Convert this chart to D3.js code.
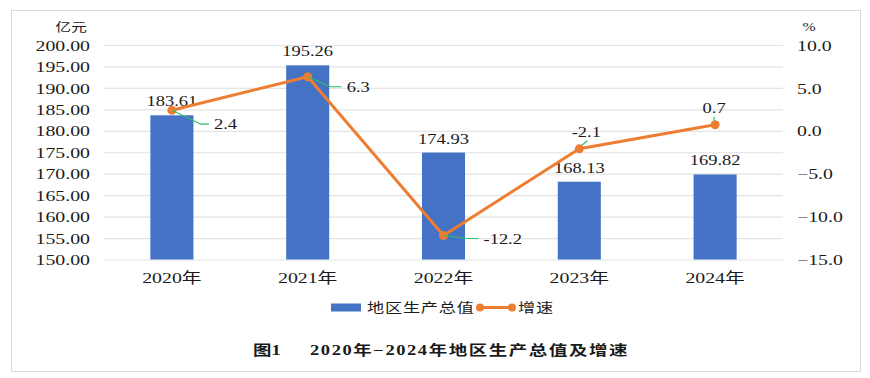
<!DOCTYPE html>
<html>
<head>
<meta charset="utf-8">
<script src="https://cdn.jsdelivr.net/npm/d3@7"></script>
<style>
  html, body { margin: 0; padding: 0; background: #fff; }
  svg text { font-family: "Liberation Serif", "Noto Sans CJK SC", serif; fill: #1a1a1a; }
</style>
</head>
<body>
<div id="chart"></div>
<script>
// ── Data ──────────────────────────────────────────────────────────────────────
const years  = ['2020年', '2021年', '2022年', '2023年', '2024年'];
const gdp    = [183.61, 195.26, 174.93, 168.13, 169.82];   // 亿元
const growth = [2.4, 6.3, -12.2, -2.1, 0.7];                // %
const leftTicks  = [150, 155, 160, 165, 170, 175, 180, 185, 190, 195, 200];
const rightTicks = [-15, -10, -5, 0, 5, 10];

// label placement for the growth values (leader line + text), relative to point
const growthLabelPos = [
  { path: [[0, 0], [29, 14], [37, 14]], tx: 42, ty: 19, anchor: 'start' },
  { path: [[0, 0], [23, 10], [34, 10]], tx: 39, ty: 15, anchor: 'start' },
  { path: [[0, 0], [23, 3], [35, 3]],   tx: 40, ty: 9,  anchor: 'start' },
  { path: [[2, -3], [8, -8]],           tx: 7,  ty: -12, anchor: 'middle' },
  { path: [[-1, -4], [-1, -8]],         tx: -1, ty: -12, anchor: 'middle' }
];

const W = 870, H = 378;
const M = { top: 45, right: 87, bottom: 118.5, left: 104 };
const SX = 1.32;   // source picture is stretched horizontally

const svg = d3.select('#chart').append('svg').attr('width', W).attr('height', H);

// stretch a text element horizontally around its anchor point
function stretch(sel, sx = SX) {
  sel.each(function () {
    const t = d3.select(this);
    const x = +t.attr('x') || 0, y = +t.attr('y') || 0;
    t.attr('x', 0).attr('y', 0)
     .attr('transform', `translate(${x},${y}) scale(${sx},1)`);
  });
}

// ── Frame ─────────────────────────────────────────────────────────────────────
svg.append('rect')
  .attr('x', 11.5).attr('y', 10.5).attr('width', 849).attr('height', 361)
  .attr('fill', 'none').attr('stroke', '#d9d9d9').attr('stroke-width', 1);

const iw = W - M.left - M.right;
const ih = H - M.top - M.bottom;
const g = svg.append('g').attr('transform', `translate(${M.left},${M.top})`);

// ── Scales ────────────────────────────────────────────────────────────────────
const x  = d3.scaleBand().domain(years).range([0, iw]).paddingInner(0.683).paddingOuter(0.3415);
const yL = d3.scaleLinear().domain([150, 200]).range([ih, 0]);
const yR = d3.scaleLinear().domain([-15, 10]).range([ih, 0]);
const cx = d => x(d) + x.bandwidth() / 2;

// ── Gridlines ─────────────────────────────────────────────────────────────────
g.append('g')
  .call(d3.axisLeft(yL).tickValues(leftTicks).tickSize(-iw).tickFormat(''))
  .call(a => a.select('.domain').remove())
  .call(a => a.selectAll('line').attr('stroke', '#e3e3e3').attr('stroke-width', 1.2));

// ── Bars ──────────────────────────────────────────────────────────────────────
g.selectAll('.bar').data(gdp).join('rect')
  .attr('x', (d, i) => x(years[i]))
  .attr('y', d => yL(d))
  .attr('width', x.bandwidth())
  .attr('height', d => ih - yL(d))
  .attr('fill', '#4472C4');

g.selectAll('.bar-label').data(gdp).join('text')
  .attr('x', (d, i) => cx(years[i]))
  .attr('y', d => yL(d) - 9)
  .attr('text-anchor', 'middle').attr('font-size', 14)
  .text(d => d.toFixed(2))
  .call(stretch);

// ── Axes ──────────────────────────────────────────────────────────────────────
g.append('g')
  .call(d3.axisLeft(yL).tickValues(leftTicks).tickSize(0).tickPadding(14).tickFormat(d3.format('.2f')))
  .call(a => a.select('.domain').remove())
  .call(a => a.selectAll('text').attr('font-size', 15).attr('fill', '#1a1a1a')
    .attr('font-family', '"Liberation Serif", serif').attr('dy', '0.34em').call(stretch));

g.append('g').attr('transform', `translate(${iw},0)`)
  .call(d3.axisRight(yR).tickValues(rightTicks).tickSize(0).tickPadding(14).tickFormat(d3.format('.1f')))
  .call(a => a.select('.domain').remove())
  .call(a => a.selectAll('text').attr('font-size', 15).attr('fill', '#1a1a1a')
    .attr('font-family', '"Liberation Serif", serif').attr('dy', '0.34em').call(stretch));

g.append('g').attr('transform', `translate(0,${ih})`)
  .call(d3.axisBottom(x).tickSize(0).tickPadding(13))
  .call(a => a.select('.domain').remove())
  .call(a => a.selectAll('text').attr('font-size', 15).attr('fill', '#1a1a1a')
    .attr('font-family', '"Liberation Serif", "Noto Sans CJK SC", serif').attr('dy', '0.71em').call(stretch));

// unit labels
svg.append('text').attr('x', 71).attr('y', 32).attr('text-anchor', 'middle')
  .attr('font-size', 12).attr('fill', '#595959')
  .attr('font-family', '"Noto Sans CJK SC", sans-serif').text('亿元').call(stretch);
svg.append('text').attr('x', 809).attr('y', 31).attr('text-anchor', 'middle')
  .attr('font-size', 12).attr('fill', '#595959').text('%').call(stretch);

// ── Growth line ───────────────────────────────────────────────────────────────
const pts = growth.map((d, i) => [cx(years[i]), yR(d)]);

g.append('path').datum(pts)
  .attr('d', d3.line())
  .attr('fill', 'none').attr('stroke', '#ED7D31').attr('stroke-width', 3)
  .attr('stroke-linejoin', 'round');

g.selectAll('.pt').data(pts).join('circle')
  .attr('cx', d => d[0]).attr('cy', d => d[1]).attr('r', 4.5)
  .attr('fill', '#ED7D31');

// leader lines + values
growth.forEach((d, i) => {
  const [px, py] = pts[i];
  const p = growthLabelPos[i];
  g.append('path')
    .attr('d', d3.line()(p.path.map(([dx, dy]) => [px + dx, py + dy])))
    .attr('fill', 'none').attr('stroke', '#2fbf6a').attr('stroke-width', 1.2);
  g.append('text')
    .attr('x', px + p.tx).attr('y', py + p.ty)
    .attr('text-anchor', p.anchor).attr('font-size', 14)
    .text(d.toFixed(1))
    .call(stretch);
});

// ── Legend ────────────────────────────────────────────────────────────────────
const lg = svg.append('g');
lg.append('rect').attr('x', 331).attr('y', 303.5).attr('width', 30).attr('height', 8)
  .attr('fill', '#4472C4');
lg.append('text').attr('x', 367).attr('y', 312).attr('font-size', 13)
  .attr('letter-spacing', 0.6).attr('fill', '#333')
  .attr('font-family', '"Noto Sans CJK SC", sans-serif').text('地区生产总值').call(stretch);
lg.append('line').attr('x1', 480).attr('x2', 512).attr('y1', 307.5).attr('y2', 307.5)
  .attr('stroke', '#ED7D31').attr('stroke-width', 3);
lg.selectAll('.lm').data([480, 512]).join('circle')
  .attr('cx', d => d).attr('cy', 307.5).attr('r', 4).attr('fill', '#ED7D31');
lg.append('text').attr('x', 518).attr('y', 312).attr('font-size', 13)
  .attr('letter-spacing', 0.6).attr('fill', '#333')
  .attr('font-family', '"Noto Sans CJK SC", sans-serif').text('增速').call(stretch);

// ── Title ─────────────────────────────────────────────────────────────────────
svg.append('text').attr('x', 253).attr('y', 355).attr('font-size', 14).attr('font-weight', 'bold')
  .attr('font-family', '"Liberation Serif", "Noto Sans CJK SC", serif')
  .text('图1').call(stretch);
svg.append('text').attr('x', 310).attr('y', 355).attr('font-size', 14).attr('font-weight', 'bold')
  .attr('letter-spacing', 1.2)
  .attr('font-family', '"Liberation Serif", "Noto Sans CJK SC", serif')
  .text('2020年−2024年地区生产总值及增速').call(stretch);
</script>
</body>
</html>
